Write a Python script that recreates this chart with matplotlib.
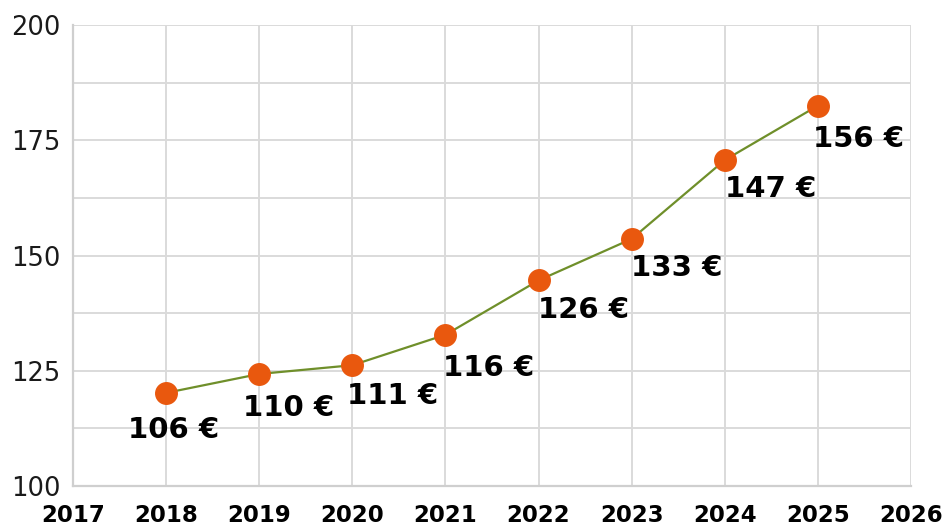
import numpy as np
import matplotlib.pyplot as plt
from matplotlib.ticker import MultipleLocator

years = [2018, 2019, 2020, 2021, 2022, 2023, 2024, 2025]
values = [120.2, 124.3, 126.2, 132.8, 144.6, 153.6, 170.7, 182.5]
labels = ["106 €", "110 €", "111 €", "116 €", "126 €", "133 €", "147 €", "156 €"]

# label offsets in pixels (manual placement like in the source)
label_dx = [-38, -16, -5, -2, -1, -1, 0, -5]
label_dy = [-37, -34, -31, -33, -30, -29, -29, -33]

plt.rcParams['font.family'] = ['DejaVu Sans']

fig = plt.figure(figsize=(9.46, 5.27), dpi=100)
ax = fig.add_axes([73 / 946, 1 - 486 / 527, (911 - 73) / 946, (486 - 25) / 527])

grid_c = '#dadada'
ax.plot(years, values, color='#6f8f2a', linewidth=1.6, zorder=3)
ax.plot(years, values, 'o', color='#e9580e', markersize=15.5, zorder=4)

for x, y, t, dx, dy in zip(years, values, labels, label_dx, label_dy):
    ax.annotate(t, (x, y), xytext=(dx * 0.72, dy * 0.72), textcoords='offset points',
                ha='left', va='center', fontsize=21, fontweight='bold', color='black', zorder=5)

ax.set_xlim(2017, 2026)
ax.set_ylim(100, 200)
ax.set_xticks(range(2017, 2027))
ax.set_yticks(np.arange(100, 201, 25))
ax.yaxis.set_minor_locator(MultipleLocator(12.5))
ax.grid(True, which='both', color=grid_c, linewidth=1.4, zorder=0)
ax.set_axisbelow(True)

for s in ['top', 'right']:
    ax.spines[s].set_visible(False)
for s in ['left', 'bottom']:
    ax.spines[s].set_color('#cfcfcf')
    ax.spines[s].set_linewidth(1.6)

ax.tick_params(axis='both', which='both', length=0)
ax.tick_params(axis='y', labelsize=18.5, pad=9, colors='#1a1a1a')
ax.tick_params(axis='x', labelsize=16.5, pad=13)
for lab in ax.get_xticklabels():
    lab.set_fontweight('bold')

fig.savefig('out.png', dpi=100)
